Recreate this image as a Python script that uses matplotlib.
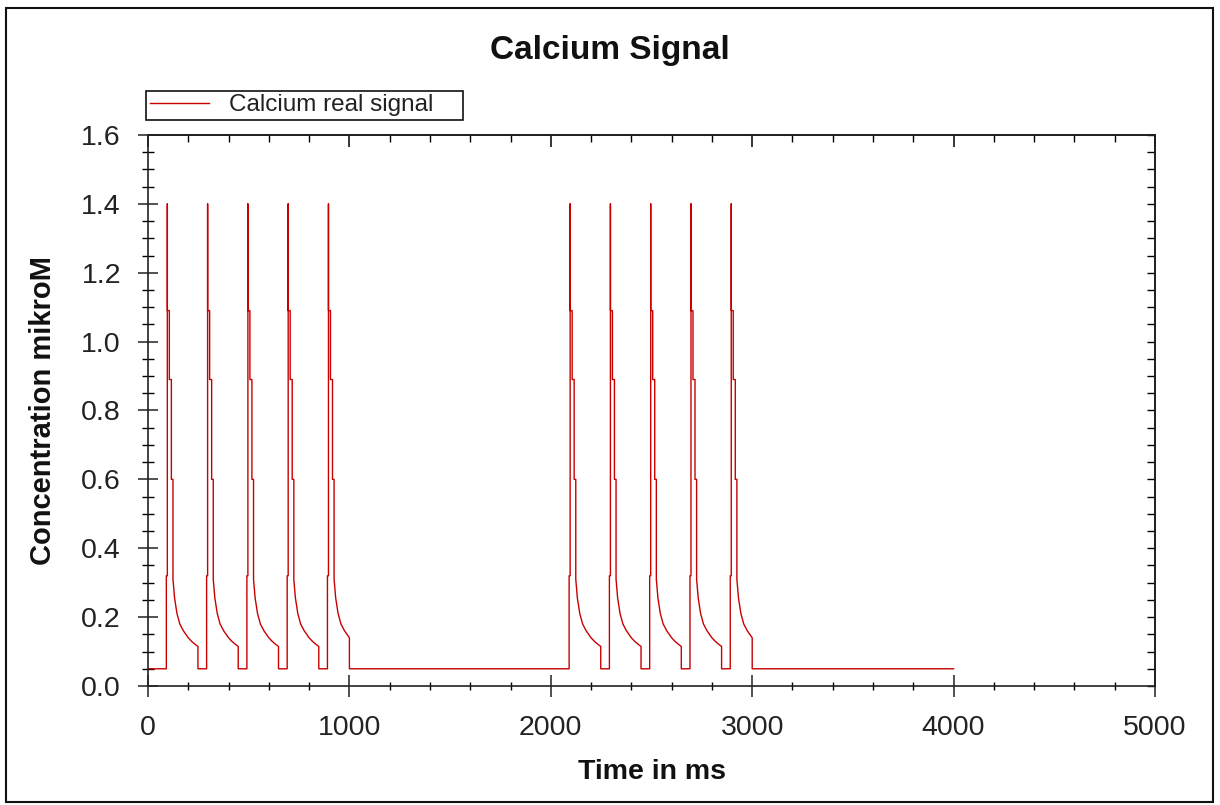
import numpy as np
import matplotlib
matplotlib.use("Agg")
import matplotlib.pyplot as plt
from matplotlib.patches import Rectangle
from matplotlib.ticker import MultipleLocator, FormatStrFormatter, NullFormatter

# ---------------- data ----------------
BASELINE = 0.05
T_START, T_END = 0, 4000
SPIKE_ONSETS = [96, 296, 496, 696, 896, 2096, 2296, 2496, 2696, 2896]
SPIKE_ENDS = [248, 448, 648, 848, 1000, 2248, 2448, 2648, 2848, 3000]
# shape of one calcium transient: time after onset (ms) and concentration (µM)
SHAPE_OFFSETS = [-5, -5, 0, 0, 0, 10, 10, 20, 20, 28, 28, 36, 48, 62, 80, 104, 120, 140, 152]
SHAPE_VALUES = [0.05, 0.32, 0.32, 1.40, 1.09, 1.09, 0.89, 0.89, 0.60, 0.60, 0.31,
                0.255, 0.21, 0.18, 0.16, 0.14, 0.13, 0.12, 0.115]

TITLE = "Calcium Signal"
XLABEL = "Time in ms"
YLABEL = "Concentration mikroM"
LEGEND_LABEL = "Calcium real signal"

# ---------------- assemble trace ----------------
t = [T_START]
c = [BASELINE]
for on, end in zip(SPIKE_ONSETS, SPIKE_ENDS):
    for o, v in zip(SHAPE_OFFSETS, SHAPE_VALUES):
        if on + o <= end:
            t.append(on + o)
            c.append(v)
    t.append(end)
    c.append(BASELINE)
t.append(T_END)
c.append(BASELINE)

# ---------------- figure ----------------
plt.rcParams["font.family"] = ["Liberation Sans", "DejaVu Sans"]
W, H = 1220, 805
fig = plt.figure(figsize=(W / 100, H / 100), dpi=100)
fig.patch.set_facecolor("white")

L, R, T, B = 148, 1155, 135, 686
ax = fig.add_axes([L / W, 1 - B / H, (R - L) / W, (B - T) / H])

line, = ax.plot(t, c, color="#c80000", lw=1.0, label=LEGEND_LABEL)

ax.set_xlim(0, 5000)
ax.set_ylim(0, 1.6)
ax.xaxis.set_major_locator(MultipleLocator(1000))
ax.xaxis.set_minor_locator(MultipleLocator(200))
ax.yaxis.set_major_locator(MultipleLocator(0.2))
ax.yaxis.set_minor_locator(MultipleLocator(0.05))
ax.yaxis.set_major_formatter(FormatStrFormatter("%.1f"))

for s in ax.spines.values():
    s.set_linewidth(1.2)
    s.set_color("#222222")

ax.tick_params(axis="x", which="major", direction="inout", length=15.5, width=1.1,
               pad=13, labelsize=20.5, top=False, colors="#222222")
ax.tick_params(axis="x", which="minor", direction="inout", length=6, width=1.0, top=False)
ax.tick_params(axis="y", which="major", direction="inout", length=15, width=1.1,
               pad=12, labelsize=20.5, right=False, colors="#222222")
ax.tick_params(axis="y", which="minor", direction="inout", length=8.5, width=1.0, right=False)

# top and right ticks pointing inward
secx = ax.secondary_xaxis("top")
secx.xaxis.set_major_locator(MultipleLocator(1000))
secx.xaxis.set_minor_locator(MultipleLocator(200))
secx.xaxis.set_major_formatter(NullFormatter())
secx.tick_params(which="major", direction="in", length=8.6, width=1.1)
secx.tick_params(which="minor", direction="in", length=4.8, width=1.0)
secx.spines["top"].set_linewidth(1.2)

secy = ax.secondary_yaxis("right")
secy.yaxis.set_major_locator(MultipleLocator(0.2))
secy.yaxis.set_minor_locator(MultipleLocator(0.05))
secy.yaxis.set_major_formatter(NullFormatter())
secy.tick_params(which="both", direction="in", length=6, width=1.0)
secy.spines["right"].set_linewidth(1.2)

# labels
ax.set_xlabel(XLABEL, fontsize=20.5, fontweight="bold", color="#111111")
ax.xaxis.label.set_va("center")
ax.xaxis.set_label_coords((L + R) / 2 / W, 1 - 772 / H, transform=fig.transFigure)
ax.set_ylabel(YLABEL, fontsize=21, fontweight="bold", color="#111111")
ax.yaxis.label.set_va("center")
ax.yaxis.set_label_coords(43 / W, 1 - (T + B) / 2 / H, transform=fig.transFigure)

fig.text(0.5, 1 - 58.5 / H, TITLE, ha="center", va="baseline",
         fontsize=24, fontweight="bold", color="#111111")

leg = ax.legend(loc="lower left", bbox_to_anchor=(146 / W, 1 - 120 / H, 317 / W, 30 / H),
                bbox_transform=fig.transFigure, mode="expand", borderaxespad=0,
                fontsize=17.5, frameon=True, fancybox=False, shadow=False,
                borderpad=0.15, handlelength=2.45, handletextpad=0.8, framealpha=1)
leg.get_frame().set_edgecolor("#111111")
leg.get_frame().set_linewidth(1.2)
for txt in leg.get_texts():
    txt.set_color("#222222")

# outer frame around the whole figure
fig.patches.append(Rectangle((6 / W, 1 - 802 / H), (1213 - 6) / W, (802 - 8) / H,
                             transform=fig.transFigure, fill=False,
                             edgecolor="#111111", linewidth=1.5))

fig.savefig("out.png", dpi=100, facecolor="white")
